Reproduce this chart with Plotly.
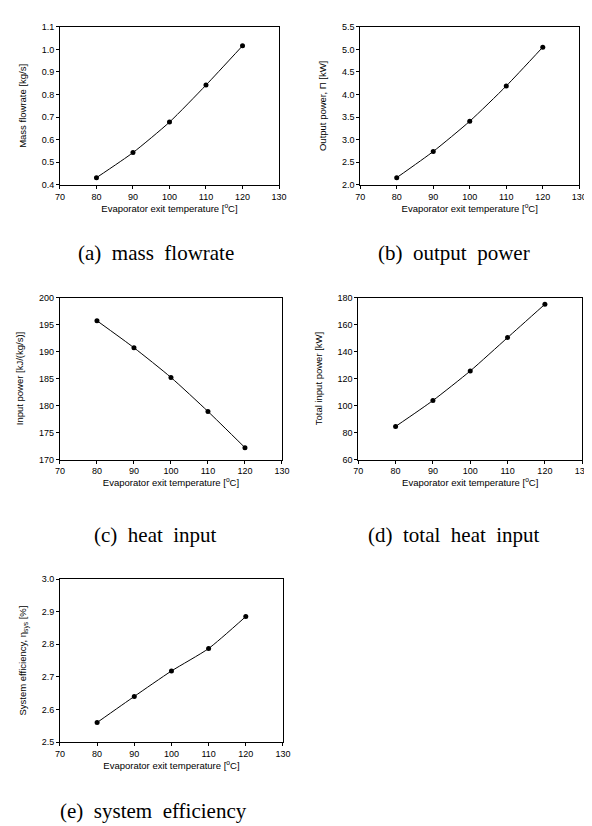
import plotly.graph_objects as go

temps = [80, 90, 100, 110, 120]
mass_flowrate = [0.432, 0.543, 0.678, 0.842, 1.016]
output_power = [2.16, 2.74, 3.41, 4.19, 5.05]
heat_input = [195.7, 190.7, 185.2, 178.9, 172.2]
total_heat_input = [84.5, 103.7, 125.6, 150.3, 175.0]
system_efficiency = [2.56, 2.64, 2.718, 2.787, 2.885]

x_title = "Evaporator exit temperature [<sup>o</sup>C]"
y_titles = [
    "Mass flowrate [kg/s]",
    "Output power, \u03a0 [kW]",
    "Input power [kJ/(kg/s)]",
    "Total input power [kW]",
    "System efficiency, \u03b7<sub>sys</sub> [%]",
]
captions = ["(a) mass flowrate", "(b) output power", "(c) heat input",
            "(d) total heat input", "(e) system efficiency"]
series = [mass_flowrate, output_power, heat_input, total_heat_input, system_efficiency]
y_ranges = [(0.4, 1.1, 0.1, ".1f"), (2.0, 5.5, 0.5, ".1f"), (170, 200, 5, "d"),
            (60, 180, 20, "d"), (2.5, 3.0, 0.1, ".1f")]

W, H = 592, 826
# plot areas in pixels: (left, right, top, bottom)
boxes = [(48, 272, 14, 174), (355, 579, 14, 174), (48, 275, 288, 452),
         (353, 582, 288, 452), (48, 276, 573, 738)]
caption_pos = [(146, 243), (451, 243), (146, 528), (451, 528), (144, 808)]

fig = go.Figure()
tick_font = dict(family="Liberation Sans, Arial, sans-serif", size=9, color="black")
title_font = dict(family="Liberation Sans, Arial, sans-serif", size=9.5, color="black")

for i, (vals, box, yr, yt) in enumerate(zip(series, boxes, y_ranges, y_titles)):
    n = "" if i == 0 else str(i + 1)
    l, r, t, b = box
    fig.add_trace(go.Scatter(
        x=temps, y=vals, mode="lines+markers",
        line=dict(color="black", width=1, shape="spline", smoothing=0.6),
        marker=dict(color="black", size=5),
        xaxis="x" + n, yaxis="y" + n, showlegend=False,
    ))
    common = dict(showline=True, linecolor="black", linewidth=1, mirror=True,
                  ticks="outside", ticklen=3, tickcolor="black", tickwidth=1,
                  showgrid=False, zeroline=False, tickfont=tick_font,
                  ticklabeloverflow="allow")
    fig.update_layout(**{
        "xaxis" + n: dict(domain=[l / W, r / W], anchor="y" + n, range=[70, 130],
                          dtick=10, tick0=70,
                          title=dict(text=x_title, font=title_font, standoff=2),
                          **common),
        "yaxis" + n: dict(domain=[1 - b / H, 1 - t / H], anchor="x" + n,
                          range=[yr[0], yr[1]], dtick=yr[2], tick0=yr[0],
                          tickformat=yr[3],
                          title=dict(text=yt, font=title_font, standoff=13),
                          **common),
    })

for cap, (cx, cy) in zip(captions, caption_pos):
    fig.add_annotation(text=cap.replace(" ", "\u00a0\u00a0"), x=cx / W, y=1 - cy / H,
                       xref="paper", yref="paper", showarrow=False,
                       xanchor="center", yanchor="middle",
                       font=dict(family="Liberation Serif, serif", size=21, color="black"))

fig.update_layout(width=W, height=H, margin=dict(l=0, r=0, t=0, b=0),
                  paper_bgcolor="white", plot_bgcolor="white")

fig.write_html("out.html")
